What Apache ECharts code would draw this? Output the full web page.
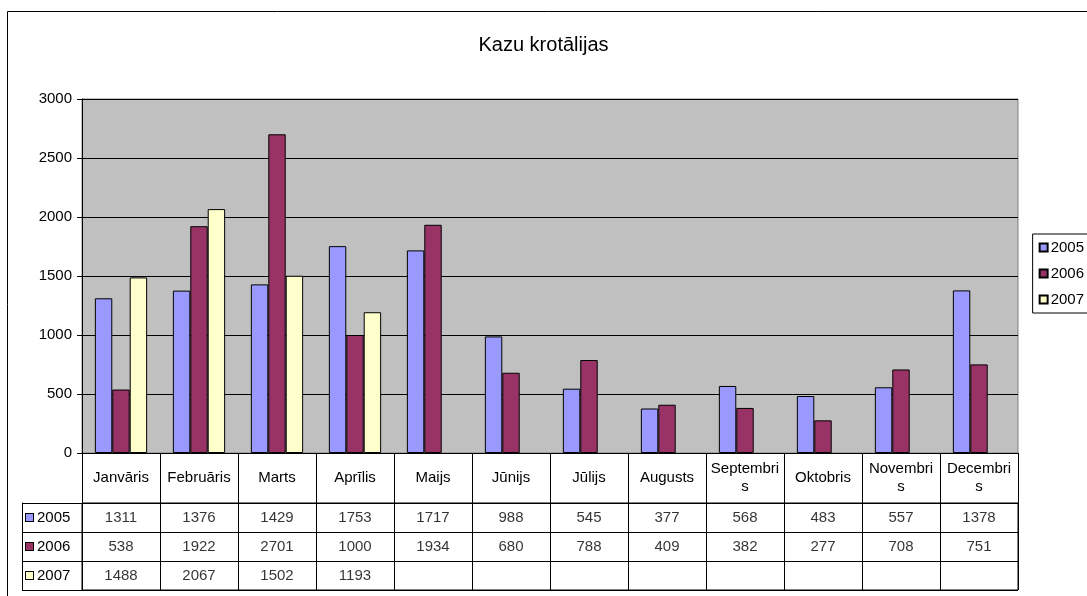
<!DOCTYPE html>
<html>
<head>
<meta charset="utf-8">
<script src="https://cdn.jsdelivr.net/npm/echarts@6/dist/echarts.min.js"></script>
<style>
    html, body { margin: 0; padding: 0; background: #fff; }
    #chart { width: 1087px; height: 596px; }
</style>
</head>
<body>
<div id="chart"></div>
<script>
    // data
    var months = ['Janvāris', 'Februāris', 'Marts', 'Aprīlis', 'Maijs', 'Jūnijs', 'Jūlijs', 'Augusts', 'Septembris', 'Oktobris', 'Novembris', 'Decembris']
    var years = ['2005', '2006', '2007']
    var y2005 = [1311, 1376, 1429, 1753, 1717, 988, 545, 377, 568, 483, 557, 1378]
    var y2006 = [538, 1922, 2701, 1000, 1934, 680, 788, 409, 382, 277, 708, 751]
    var y2007 = [1488, 2067, 1502, 1193, null, null, null, null, null, null, null, null]
    var yTicks = [0, 500, 1000, 1500, 2000, 2500, 3000]

    var colors = ['#9999FF', '#993366', '#FFFFCC']
    var font = "'Liberation Sans', Arial, sans-serif"
    var valuesByYear = [y2005, y2006, y2007]

    // table cells: [month, year, value]
    var cells = []
    valuesByYear.forEach(function (vals, yi) {
        vals.forEach(function (v, mi) {
            if (v !== null) cells.push([mi, years[yi], v])
        })
    })

    // wrap a cell label the way the spreadsheet does (break inside the word)
    var measureCtx = document.createElement('canvas').getContext('2d')
    measureCtx.font = '15px ' + font
    function wrapLabel(text, maxW) {
        var lines = [], cur = ''
        for (var i = 0; i < text.length; i++) {
            var next = cur + text[i]
            if (cur && measureCtx.measureText(next).width > maxW) {
                lines.push(cur)
                cur = text[i]
            } else {
                cur = next
            }
        }
        lines.push(cur)
        return lines.join('\n')
    }

    // rich keys for the little legend squares in the table
    var rich = {}
    years.forEach(function (y, i) {
        rich['k' + y] = { width: 7, height: 7, backgroundColor: colors[i], borderColor: '#000', borderWidth: 1 }
        rich['t' + y] = { fontSize: 15, fontFamily: font, color: '#000', padding: [0, 0, 0, 4] }
    })

    var myChart = echarts.init(document.getElementById('chart'))
    myChart.setOption({
        animation: false,
        backgroundColor: '#fff',
        title: {
            text: 'Kazu krotālijas',
            left: 'center',
            top: 30,
            textStyle: { fontFamily: font, fontSize: 20, fontWeight: 'normal', color: '#000' }
        },
        legend: {
            data: years,
            orient: 'vertical',
            right: -17,
            top: 234,
            icon: 'rect',
            itemWidth: 8,
            itemHeight: 8,
            itemGap: 11,
            padding: [6, 20, 6, 6],
            borderColor: '#000',
            borderWidth: 1,
            textStyle: { fontFamily: font, fontSize: 15, color: '#000', padding: [0, 0, 0, -2] }
        },
        graphic: [{
            type: 'rect',
            z: -1,
            shape: { x: 7.5, y: 11.5, width: 1100, height: 600 },
            style: { fill: 'none', stroke: '#000', lineWidth: 1 }
        }],
        grid: [
            { left: 82, top: 99, width: 936, height: 354, show: true, backgroundColor: '#C0C0C0', borderColor: '#808080', borderWidth: 1 },
            { left: 82, top: 503, width: 936, height: 87, show: true, backgroundColor: 'transparent', borderColor: '#000', borderWidth: 1 }
        ],
        xAxis: [
            {
                gridIndex: 0,
                type: 'category',
                data: months,
                axisLine: { show: true, lineStyle: { color: '#000', width: 1 } },
                axisTick: { show: true, interval: 0, length: 50, lineStyle: { color: '#000' } },
                axisLabel: {
                    interval: 0,
                    margin: 25,
                    verticalAlign: 'middle',
                    lineHeight: 18,
                    color: '#000',
                    fontFamily: font,
                    fontSize: 15,
                    formatter: function (v) { return wrapLabel(v, 70) }
                },
                splitLine: { show: false }
            },
            {
                gridIndex: 1,
                type: 'category',
                data: months,
                axisLine: { show: false },
                axisTick: { show: false },
                axisLabel: { show: false },
                splitLine: { show: true, interval: 0, lineStyle: { color: '#000', width: 1 } }
            }
        ],
        yAxis: [
            {
                gridIndex: 0,
                type: 'value',
                min: 0,
                max: 3000,
                interval: 500,
                axisLine: { show: true, lineStyle: { color: '#000', width: 1 } },
                axisTick: { show: true, length: 5, lineStyle: { color: '#000' } },
                axisLabel: {
                    margin: 10,
                    color: '#000',
                    fontFamily: font,
                    fontSize: 15,
                    formatter: function (v) { return yTicks.indexOf(v) >= 0 ? String(v) : '' }
                },
                splitLine: { show: true, lineStyle: { color: '#000', width: 1 } }
            },
            {
                gridIndex: 1,
                type: 'category',
                data: years,
                inverse: true,
                axisLine: { show: true, lineStyle: { color: '#000', width: 1 } },
                axisTick: { show: true, interval: 0, length: 60, lineStyle: { color: '#000' } },
                axisLabel: {
                    interval: 0,
                    margin: 56,
                    align: 'left',
                    rich: rich,
                    formatter: function (v) { return '{k' + v + '|}{t' + v + '|' + v + '}' }
                },
                splitLine: { show: true, interval: 0, lineStyle: { color: '#000', width: 1 } }
            },
            {
                // left edge of the row-header column
                gridIndex: 1,
                type: 'value',
                position: 'left',
                offset: 60,
                axisLine: { show: true, onZero: false, lineStyle: { color: '#000', width: 1 } },
                axisTick: { show: false },
                axisLabel: { show: false },
                splitLine: { show: false }
            }
        ],
        series: years.map(function (y, i) {
            return {
                name: y,
                type: 'bar',
                xAxisIndex: 0,
                yAxisIndex: 0,
                data: valuesByYear[i],
                barGap: '0%',
                barCategoryGap: '33%',
                itemStyle: { color: colors[i], borderColor: '#000', borderWidth: 1 }
            }
        }).concat([{
            name: 'table',
            type: 'scatter',
            xAxisIndex: 1,
            yAxisIndex: 1,
            symbolSize: 0,
            data: cells,
            silent: true,
            label: {
                show: true,
                position: 'inside',
                color: '#000',
                fontFamily: font,
                fontSize: 15,
                formatter: function (p) { return String(p.value[2]) }
            }
        }])
    })
</script>
</body>
</html>
